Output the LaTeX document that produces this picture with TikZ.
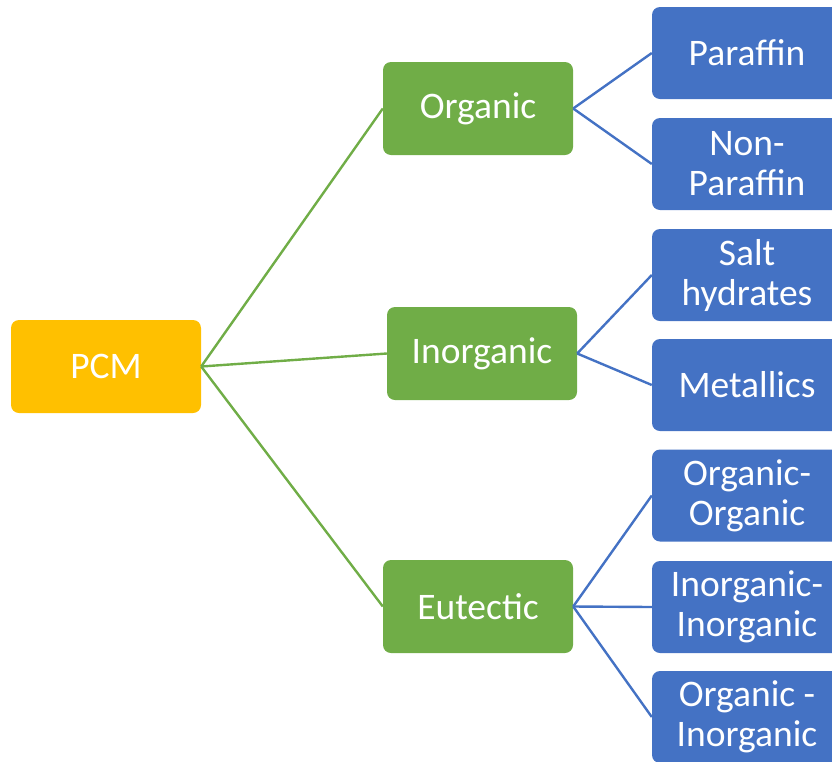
\documentclass[tikz,border=0pt]{standalone}
\usepackage{fontspec}
\setmainfont{Carlito}
\definecolor{pcmorange}{HTML}{FFC000}
\definecolor{pcmgreen}{HTML}{70AD47}
\definecolor{pcmblue}{HTML}{4472C4}
\tikzset{
  box/.style={rounded corners=8pt, minimum width=190pt, inner sep=0pt, text=white, align=center,
    font=\fontsize{37.5}{40}\selectfont},
  rootbox/.style={box, fill=pcmorange, minimum height=93pt},
  midbox/.style={box, fill=pcmgreen, minimum height=93pt},
  leafbox/.style={box, fill=pcmblue, minimum height=92pt},
  gline/.style={draw=pcmgreen, line width=2.4pt},
  bline/.style={draw=pcmblue, line width=2.4pt}
}
\begin{document}
\begin{tikzpicture}[x=1pt,y=-1pt]
\useasboundingbox (0,0) rectangle (832,761);
\clip (0,0) rectangle (832,761);
\node[rootbox] (pcm) at (106,366.5) {PCM};
\node[midbox] (org) at (478,108.5) {Organic};
\node[midbox] (inorg) at (482,353.5) {Inorganic};
\node[midbox] (eut) at (478,606.5) {Eutectic};
\node[leafbox] (par) at (747,53) {Paraffin};
\node[leafbox] (npar) at (747,164) {Non-\\Paraffin};
\node[leafbox] (salt) at (747,275) {Salt\\hydrates};
\node[leafbox] (met) at (747,385) {Metallics};
\node[leafbox] (oo) at (747,495.5) {Organic-\\Organic};
\node[leafbox] (ii) at (747,607) {Inorganic-\\Inorganic};
\node[leafbox] (oi) at (747,717) {Organic -\\Inorganic};
\draw[gline] (pcm.east) -- (org.west);
\draw[gline] (pcm.east) -- (inorg.west);
\draw[gline] (pcm.east) -- (eut.west);
\draw[bline] (org.east) -- (par.west);
\draw[bline] (org.east) -- (npar.west);
\draw[bline] (inorg.east) -- (salt.west);
\draw[bline] (inorg.east) -- (met.west);
\draw[bline] (eut.east) -- (oo.west);
\draw[bline] (eut.east) -- (ii.west);
\draw[bline] (eut.east) -- (oi.west);
\end{tikzpicture}
\end{document}
